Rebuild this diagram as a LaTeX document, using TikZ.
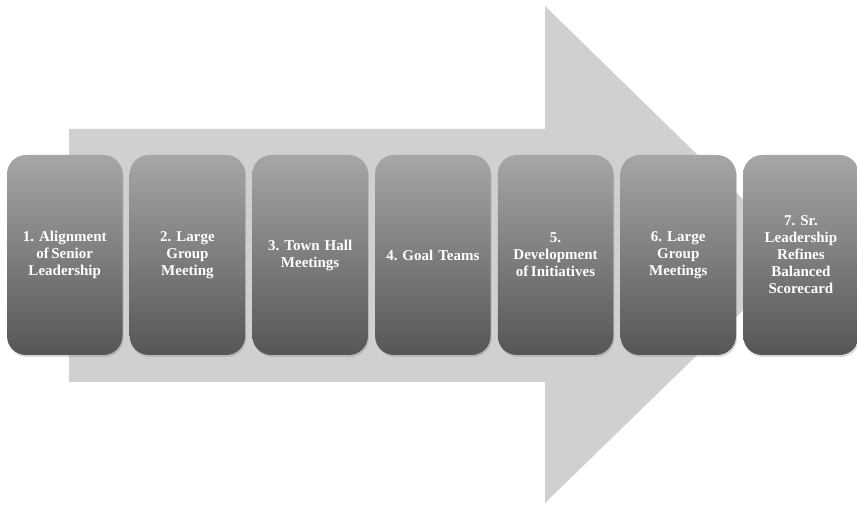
\documentclass[tikz,border=0pt]{standalone}
\usepackage{fontspec}
\setmainfont{Liberation Serif}
\usepackage{xcolor}
\usepackage{tikz}
\usetikzlibrary{positioning, shadows}
\frenchspacing

\definecolor{arrowgray}{RGB}{208,208,208}
\definecolor{boxtop}{RGB}{166,166,166}
\definecolor{boxbottom}{RGB}{86,86,86}

\begin{document}
\begin{tikzpicture}[
  x=1pt, y=1pt,
  stage/.style = {rectangle, rounded corners=19pt, top color=boxtop, bottom color=boxbottom,
                  draw=none, minimum width=115.5pt, minimum height=200pt, text width=108pt,
                  align=center, text=white, font=\fontsize{15}{17}\selectfont\bfseries,
                  drop shadow={opacity=0.3, shadow xshift=1pt, shadow yshift=-2pt}},
  node distance=6.8pt
]
\useasboundingbox (0,0) rectangle (857,508);

% big background arrow
\fill[arrowgray] (69,126) -- (545,126) -- (545,5) -- (800,253) -- (545,502) -- (545,379) -- (69,379) -- cycle;

\node[stage] (step1) at (64.75,253) {1. Alignment\\ of\,Senior\\ Leadership};
\node[stage, right=of step1] (step2) {2. Large\\ Group\\ Meeting};
\node[stage, right=of step2] (step3) {3. Town Hall\\ Meetings};
\node[stage, right=of step3] (step4) {4. Goal Teams};
\node[stage, right=of step4] (step5) {5.\\ Development\\ of\,Initiatives};
\node[stage, right=of step5] (step6) {6. Large\\ Group\\ Meetings};
\node[stage, right=of step6] (step7) {7. Sr.\\ Leadership\\ Refines\\ Balanced\\ Scorecard};

\end{tikzpicture}
\end{document}
